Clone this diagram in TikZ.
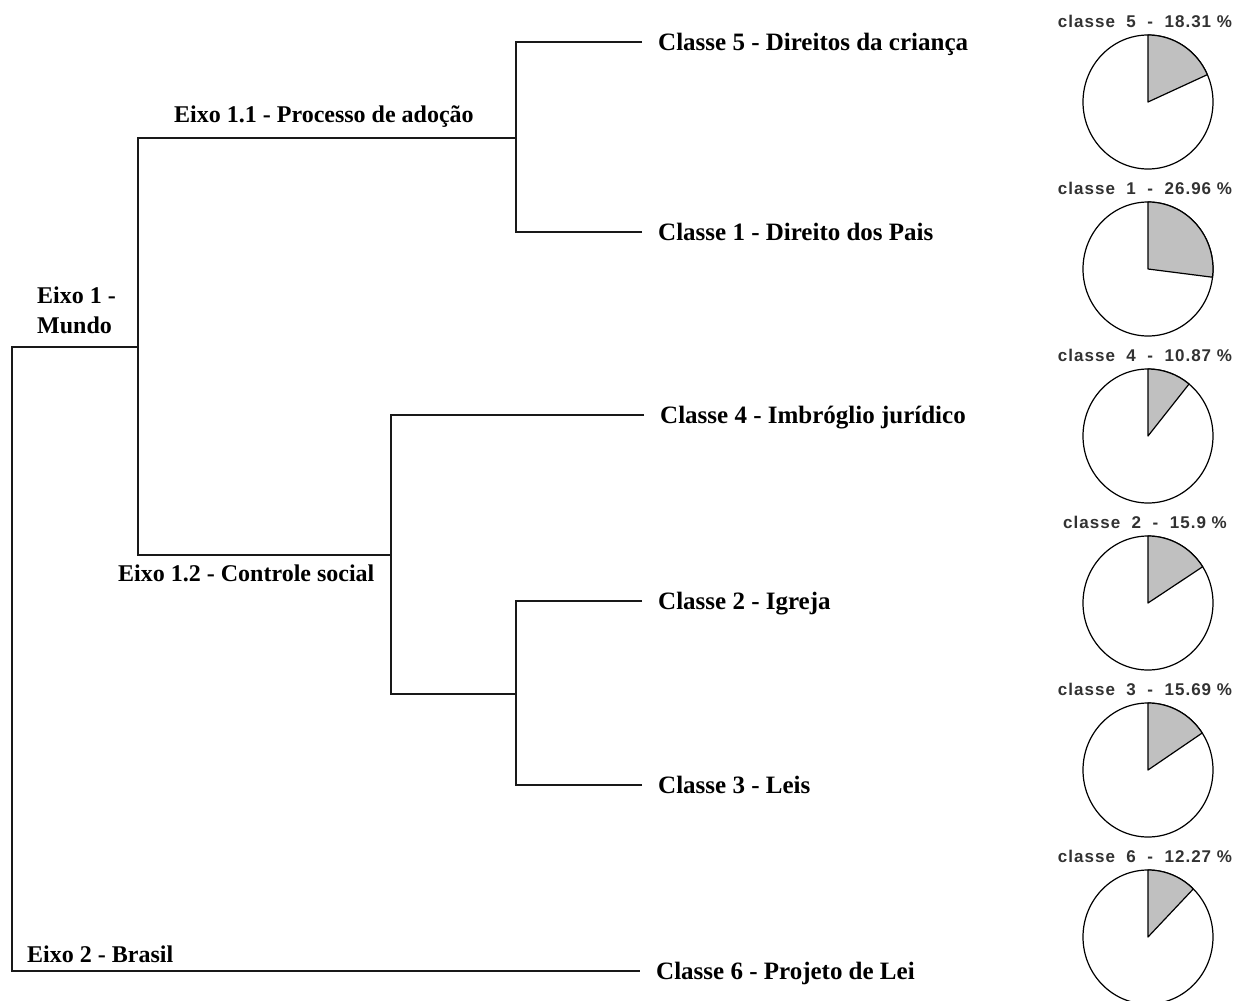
\documentclass[tikz,border=0pt]{standalone}
\usepackage{fontspec}
\setmainfont{Liberation Serif}
\newfontfamily\piefont[LetterSpace=6]{Liberation Sans}
\usetikzlibrary{positioning, shapes.geometric}
\definecolor{slicegray}{RGB}{192,192,192}
\definecolor{pietext}{RGB}{50,50,50}
\tikzset{
    branch/.style={line width=1.5pt, black!90},
    classe/.style={anchor=west, inner xsep=16pt, inner ysep=0pt, text height=17pt, text depth=0pt, font=\fontsize{25}{30}\selectfont\bfseries},
    eixo/.style={anchor=base west, inner sep=0pt, align=left, font=\fontsize{24}{30}\selectfont\bfseries},
    pie/.style={draw, ellipse, line width=1.2pt, fill=white, minimum width=130pt, minimum height=134pt, inner sep=0pt},
    pielabel/.style={inner sep=0pt, text=pietext, font=\piefont\fontsize{17}{20}\selectfont\bfseries}
}

\begin{document}
\begin{tikzpicture}[x=1pt, y=-1pt, node distance=7pt]
    \useasboundingbox (0,0) rectangle (1243,1001);
    % classes
    \node [classe] (c5) at (642,42) {Classe 5 - Direitos da criança};
    \node [classe] (c1) at (642,232) {Classe 1 - Direito dos Pais};
    \node [classe] (c4) at (644,415) {Classe 4 - Imbróglio jurídico};
    \node [classe] (c2) at (642,601) {Classe 2 - Igreja};
    \node [classe] (c3) at (642,785) {Classe 3 - Leis};
    \node [classe] (c6) at (640,971) {Classe 6 - Projeto de Lei};
    % junctions
    \coordinate (j11) at (516,138);
    \coordinate (j12) at (391,555);
    \coordinate (j12b) at (516,694);
    \coordinate (j1) at (138,347);
    \coordinate (root) at (12,971);
    \draw [branch] (c5.west) -| (j11);
    \draw [branch] (c1.west) -| (j11);
    \draw [branch] (c4.west) -| (j12);
    \draw [branch] (c2.west) -| (j12b);
    \draw [branch] (c3.west) -| (j12b);
    \draw [branch] (j12b) -| (j12);
    \draw [branch] (j11) -| (j1);
    \draw [branch] (j12) -| (j1);
    \draw [branch] (j1) -| (root) -- (c6.west);
    % axes
    \node [eixo] (e11) at (174,122) {Eixo 1.1 - Processo de adoção};
    \node [eixo] (e12) at (118,581) {Eixo 1.2 - Controle social};
    \node [eixo] (e1) at (37,333) {Eixo 1 -\\Mundo};
    \node [eixo] (e2) at (27,962) {Eixo 2 - Brasil};
    % pies
    \foreach \cls/\pct [count=\k from 0] in {5/18.31, 1/26.96, 4/10.87, 2/15.9, 3/15.69, 6/12.27} {
        \node [pie] (pie\cls) at (1148,102+167*\k) {};
        \filldraw [fill=slicegray, line width=1.2pt, line join=round] (pie\cls.center) -- ++(0,-67) arc [start angle=-90, end angle=-90+3.6*\pct, x radius=65, y radius=67] -- cycle;
        \node [pielabel, above=of pie\cls, xshift=-3pt] (lbl\cls) {classe~~\cls~~-~~\pct~\%};
    }
\end{tikzpicture}
\end{document}
